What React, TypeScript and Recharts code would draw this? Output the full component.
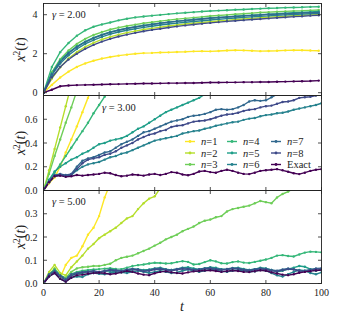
import React from 'react';
import { LineChart, Line, XAxis, YAxis } from 'recharts';

const SERIF = "'Liberation Serif', 'DejaVu Serif', serif";
const INK = '#222222';
const PLOT_L = 43.5;
const PLOT_R = 321.5;

// time grids
const t1 = [0, 3, 6, 9, 12, 15, 18, 21, 24, 27, 30, 33, 36, 39, 42, 45, 48, 51, 54, 57, 60, 63, 66, 69, 72, 75, 78, 81, 84, 87, 90, 93, 96, 99];
const t2 = [0, 2, 4, 6, 8, 10, 12, 14, 16, 18, 20, 22, 24, 26, 28, 30, 32, 34, 36, 38, 40, 42, 44, 46, 48, 50, 52, 54, 56, 58, 60, 62, 64, 66, 68, 70, 72, 74, 76, 78, 80, 82, 84, 86, 88, 90, 92, 94, 96, 98, 100];

const xTicks = [0, 20, 40, 60, 80, 100];
const yTicks1 = [0, 2, 4];
const yLabels1 = ['0', '2', '4'];
const yTicks2 = [0, 0.2, 0.4, 0.6];
const yLabels2 = ['0.0', '0.2', '0.4', '0.6'];
const yTicks3 = [0, 0.1, 0.2, 0.3];
const yLabels3 = ['0.0', '0.1', '0.2', '0.3'];

const seriesKeys = ['n1', 'n2', 'n3', 'n4', 'n5', 'n6', 'n7', 'n8', 'exact'];
const seriesNames = ['1', '2', '3', '4', '5', '6', '7', '8', 'Exact'];
const seriesColors = ['#fde725', '#b5de2b', '#6ece58', '#35b779', '#1f9e89', '#26828e', '#31688e', '#3e4989', '#440154'];

// gamma = 2.00
const g2n1 = [0, 0.4, 0.78, 1.08, 1.32, 1.5, 1.64, 1.75, 1.83, 1.9, 1.95, 2.0, 2.03, 2.04, 2.06, 2.07, 2.09, 2.1, 2.12, 2.13, 2.12, 2.14, 2.16, 2.18, 2.17, 2.15, 2.13, 2.14, 2.15, 2.17, 2.18, 2.18, 2.16, 2.15];
const g2n2 = [0, 0.72, 1.3, 1.75, 2.08, 2.35, 2.56, 2.73, 2.86, 2.98, 3.08, 3.16, 3.24, 3.3, 3.36, 3.42, 3.47, 3.52, 3.56, 3.6, 3.64, 3.68, 3.71, 3.75, 3.78, 3.81, 3.84, 3.87, 3.9, 3.92, 3.95, 3.97, 3.99, 4.0];
const g2n3 = [0, 1.05, 1.72, 2.16, 2.5, 2.76, 2.96, 3.11, 3.24, 3.34, 3.42, 3.49, 3.56, 3.61, 3.67, 3.72, 3.77, 3.81, 3.85, 3.89, 3.93, 3.96, 3.99, 4.02, 4.05, 4.08, 4.11, 4.13, 4.15, 4.17, 4.19, 4.2, 4.22, 4.24];
const g2n4 = [0, 1.32, 2.08, 2.55, 2.92, 3.2, 3.38, 3.5, 3.6, 3.71, 3.79, 3.86, 3.91, 3.95, 3.99, 4.03, 4.07, 4.1, 4.13, 4.16, 4.19, 4.21, 4.23, 4.25, 4.27, 4.29, 4.31, 4.33, 4.34, 4.36, 4.37, 4.38, 4.4, 4.41];
const g2n5 = [0, 1.0, 1.65, 2.06, 2.38, 2.62, 2.82, 2.98, 3.11, 3.22, 3.31, 3.38, 3.45, 3.51, 3.57, 3.62, 3.67, 3.71, 3.75, 3.79, 3.83, 3.86, 3.89, 3.92, 3.95, 3.98, 4.0, 4.03, 4.05, 4.08, 4.1, 4.12, 4.14, 4.16];
const g2n6 = [0, 0.9, 1.5, 1.92, 2.24, 2.5, 2.7, 2.86, 3.0, 3.11, 3.2, 3.28, 3.35, 3.41, 3.47, 3.52, 3.57, 3.61, 3.65, 3.69, 3.73, 3.77, 3.8, 3.83, 3.86, 3.89, 3.92, 3.94, 3.97, 3.99, 4.01, 4.03, 4.05, 4.07];
const g2n7 = [0, 0.95, 1.58, 2.02, 2.34, 2.6, 2.8, 2.96, 3.09, 3.2, 3.29, 3.37, 3.44, 3.5, 3.56, 3.61, 3.66, 3.7, 3.74, 3.78, 3.82, 3.85, 3.88, 3.91, 3.94, 3.96, 3.99, 4.01, 4.03, 4.05, 4.07, 4.09, 4.1, 4.11];
const g2n8 = [0, 0.78, 1.32, 1.7, 2.0, 2.25, 2.45, 2.62, 2.76, 2.88, 2.98, 3.07, 3.15, 3.22, 3.28, 3.34, 3.4, 3.45, 3.5, 3.54, 3.58, 3.62, 3.66, 3.69, 3.72, 3.75, 3.78, 3.81, 3.84, 3.87, 3.9, 3.92, 3.95, 3.97];
const g2exact = [0, 0.15, 0.33, 0.37, 0.39, 0.4, 0.41, 0.42, 0.43, 0.44, 0.45, 0.46, 0.47, 0.47, 0.48, 0.49, 0.49, 0.5, 0.5, 0.51, 0.52, 0.52, 0.53, 0.53, 0.54, 0.54, 0.55, 0.55, 0.56, 0.57, 0.58, 0.59, 0.6, 0.62];

// gamma = 3.00 (series stop once they leave the panel)
const g3n1 = [0, 0.06, 0.11, 0.2, 0.32, 0.43, 0.54, 0.66, 0.78, 0.9];
const g3n2 = [0, 0.17, 0.35, 0.53, 0.71, 0.89];
const g3n3 = [0, 0.14, 0.29, 0.43, 0.57, 0.7, 0.84];
const g3n4 = [0, 0.08, 0.15, 0.22, 0.29, 0.36, 0.43, 0.5, 0.57, 0.65, 0.72, 0.79, 0.86];
const g3n5 = [0, 0.09, 0.16, 0.2, 0.23, 0.26, 0.28, 0.31, 0.33, 0.36, 0.39, 0.4, 0.42, 0.43, 0.44, 0.46, 0.49, 0.52, 0.54, 0.57, 0.6, 0.63, 0.66, 0.68, 0.7, 0.72, 0.74, 0.76, 0.78, 0.81, 0.83];
const g3n6 = [0, 0.07, 0.12, 0.13, 0.12, 0.13, 0.17, 0.2, 0.22, 0.23, 0.24, 0.26, 0.28, 0.29, 0.31, 0.32, 0.34, 0.36, 0.38, 0.4, 0.42, 0.43, 0.44, 0.45, 0.46, 0.48, 0.49, 0.5, 0.505, 0.52, 0.53, 0.545, 0.555, 0.565, 0.575, 0.58, 0.595, 0.605, 0.61, 0.625, 0.635, 0.64, 0.65, 0.655, 0.665, 0.68, 0.69, 0.7, 0.71, 0.72, 0.735];
const g3n7 = [0, 0.08, 0.13, 0.14, 0.13, 0.14, 0.2, 0.25, 0.27, 0.28, 0.3, 0.32, 0.33, 0.36, 0.39, 0.41, 0.43, 0.46, 0.49, 0.5, 0.52, 0.54, 0.56, 0.58, 0.59, 0.6, 0.62, 0.63, 0.635, 0.645, 0.66, 0.68, 0.685, 0.68, 0.685, 0.7, 0.72, 0.75, 0.76, 0.755, 0.76, 0.785, 0.81, 0.83];
const g3n8 = [0, 0.075, 0.125, 0.135, 0.125, 0.135, 0.18, 0.23, 0.26, 0.27, 0.28, 0.3, 0.31, 0.33, 0.36, 0.38, 0.4, 0.43, 0.45, 0.47, 0.48, 0.5, 0.51, 0.535, 0.545, 0.55, 0.565, 0.58, 0.585, 0.59, 0.6, 0.615, 0.63, 0.64, 0.645, 0.655, 0.67, 0.68, 0.685, 0.7, 0.71, 0.715, 0.73, 0.745, 0.75, 0.76, 0.78, 0.785, 0.79, 0.8, 0.81];
const g3exact = [0, 0.07, 0.12, 0.125, 0.115, 0.12, 0.13, 0.125, 0.13, 0.135, 0.14, 0.15, 0.145, 0.13, 0.12, 0.125, 0.135, 0.13, 0.125, 0.135, 0.14, 0.13, 0.14, 0.155, 0.15, 0.135, 0.128, 0.14, 0.16, 0.165, 0.155, 0.15, 0.165, 0.175, 0.165, 0.15, 0.14, 0.138, 0.15, 0.165, 0.17, 0.175, 0.18, 0.17, 0.158, 0.145, 0.138, 0.15, 0.165, 0.175, 0.18];

// gamma = 5.00
const g5n1 = [0, 0.04, 0.065, 0.025, 0.08, 0.11, 0.12, 0.16, 0.21, 0.24, 0.29, 0.37, 0.43];
const g5n2 = [0, 0.05, 0.08, 0.045, 0.035, 0.07, 0.095, 0.12, 0.15, 0.17, 0.195, 0.21, 0.225, 0.24, 0.26, 0.28, 0.29, 0.32, 0.345, 0.365, 0.375, 0.41];
const g5n3 = [0, 0.035, 0.065, 0.035, 0.025, 0.05, 0.065, 0.07, 0.072, 0.075, 0.075, 0.08, 0.085, 0.1, 0.11, 0.115, 0.12, 0.13, 0.14, 0.15, 0.163, 0.175, 0.19, 0.2, 0.21, 0.225, 0.235, 0.245, 0.26, 0.27, 0.275, 0.285, 0.29, 0.31, 0.32, 0.325, 0.33, 0.335, 0.345, 0.355, 0.35, 0.345, 0.37, 0.385, 0.395, 0.41];
const g5n4 = [0, 0.04, 0.06, 0.035, 0.02, 0.04, 0.05, 0.055, 0.058, 0.06, 0.062, 0.064, 0.066, 0.063, 0.062, 0.068, 0.075, 0.079, 0.082, 0.086, 0.089, 0.088, 0.086, 0.087, 0.092, 0.096, 0.093, 0.082, 0.084, 0.092, 0.1, 0.095, 0.087, 0.086, 0.092, 0.095, 0.09, 0.088, 0.093, 0.098, 0.103, 0.11, 0.12, 0.122, 0.118, 0.116, 0.125, 0.133, 0.137, 0.136, 0.134];
const g5n5 = [0, 0.035, 0.05, 0.03, 0.015, 0.035, 0.04, 0.045, 0.05, 0.05, 0.048, 0.052, 0.055, 0.05, 0.048, 0.055, 0.06, 0.062, 0.058, 0.06, 0.065, 0.068, 0.062, 0.058, 0.062, 0.068, 0.07, 0.065, 0.06, 0.065, 0.07, 0.068, 0.062, 0.06, 0.065, 0.068, 0.063, 0.058, 0.062, 0.068, 0.065, 0.058, 0.05, 0.055, 0.062, 0.068, 0.075, 0.072, 0.062, 0.055, 0.06];
const g5n6 = [0, 0.03, 0.045, 0.02, 0.008, 0.025, 0.03, 0.028, 0.04, 0.045, 0.042, 0.04, 0.045, 0.05, 0.048, 0.045, 0.05, 0.055, 0.05, 0.045, 0.05, 0.055, 0.05, 0.045, 0.048, 0.055, 0.06, 0.055, 0.05, 0.055, 0.06, 0.058, 0.052, 0.05, 0.055, 0.058, 0.055, 0.05, 0.052, 0.058, 0.055, 0.045, 0.035, 0.03, 0.04, 0.05, 0.058, 0.055, 0.045, 0.04, 0.048];
const g5n7 = [0, 0.04, 0.055, 0.035, 0.02, 0.04, 0.045, 0.05, 0.052, 0.055, 0.05, 0.055, 0.06, 0.058, 0.055, 0.06, 0.064, 0.06, 0.055, 0.058, 0.064, 0.066, 0.06, 0.058, 0.063, 0.067, 0.065, 0.06, 0.062, 0.066, 0.068, 0.064, 0.06, 0.063, 0.067, 0.066, 0.06, 0.058, 0.062, 0.066, 0.064, 0.058, 0.055, 0.06, 0.065, 0.062, 0.056, 0.055, 0.06, 0.065, 0.066];
const g5n8 = [0, 0.035, 0.05, 0.03, 0.015, 0.035, 0.042, 0.048, 0.05, 0.052, 0.05, 0.053, 0.057, 0.055, 0.052, 0.057, 0.06, 0.058, 0.053, 0.055, 0.06, 0.062, 0.058, 0.055, 0.059, 0.063, 0.062, 0.058, 0.059, 0.063, 0.065, 0.061, 0.058, 0.06, 0.064, 0.063, 0.058, 0.055, 0.059, 0.063, 0.06, 0.055, 0.052, 0.057, 0.062, 0.06, 0.054, 0.052, 0.057, 0.062, 0.063];
const g5exact = [0, 0.03, 0.045, 0.02, 0.008, 0.025, 0.035, 0.038, 0.042, 0.045, 0.046, 0.044, 0.04, 0.043, 0.048, 0.054, 0.05, 0.043, 0.038, 0.036, 0.044, 0.05, 0.052, 0.048, 0.045, 0.043, 0.048, 0.052, 0.054, 0.056, 0.057, 0.054, 0.05, 0.053, 0.056, 0.054, 0.05, 0.049, 0.053, 0.057, 0.055, 0.048, 0.043, 0.038, 0.036, 0.04, 0.046, 0.05, 0.053, 0.056, 0.058];

const buildRows = (t: number[], cols: number[][]) =>
  t.map((tv, i) => {
    const row: Record<string, number | null> = { t: tv };
    seriesKeys.forEach((k, j) => {
      row[k] = i < cols[j].length ? cols[j][i] : null;
    });
    return row;
  });

const panels = [
  {
    gamma: '2.00', gx: 52, gy: 17.5, top: 3.5, bottom: 95.5, domain: [-0.144, 4.574],
    yTicks: yTicks1, yLabels: yLabels1, showX: false,
    rows: buildRows(t1, [g2n1, g2n2, g2n3, g2n4, g2n5, g2n6, g2n7, g2n8, g2exact]),
  },
  {
    gamma: '3.00', gx: 102, gy: 111, top: 95.5, bottom: 190.5, domain: [0, 0.8],
    yTicks: yTicks2, yLabels: yLabels2, showX: false,
    rows: buildRows(t2, [g3n1, g3n2, g3n3, g3n4, g3n5, g3n6, g3n7, g3n8, g3exact]),
  },
  {
    gamma: '5.00', gx: 52, gy: 205, top: 190.5, bottom: 283.5, domain: [0, 0.4],
    yTicks: yTicks3, yLabels: yLabels3, showX: true,
    rows: buildRows(t2, [g5n1, g5n2, g5n3, g5n4, g5n5, g5n6, g5n7, g5n8, g5exact]),
  },
];

const txt = { fontFamily: SERIF, fill: INK };

// inward ticks on bottom + top, labels only on the last panel
const XTick = (props: any) => {
  const { x, y, payload, plotTop, showLabel } = props;
  return (
    <g>
      <line x1={x} x2={x} y1={y} y2={y - 3.5} stroke={INK} strokeWidth={0.8} />
      <line x1={x} x2={x} y1={plotTop} y2={plotTop + 3.5} stroke={INK} strokeWidth={0.8} />
      {showLabel && (
        <text x={x} y={y + 12.5} textAnchor="middle" fontSize={10} style={txt}>
          {payload.value}
        </text>
      )}
    </g>
  );
};

// inward ticks on left + right
const YTick = (props: any) => {
  const { x, y, payload, tickVals, tickLabels } = props;
  const label = tickLabels[tickVals.indexOf(payload.value)];
  return (
    <g>
      <line x1={x} x2={x + 3.5} y1={y} y2={y} stroke={INK} strokeWidth={0.8} />
      <line x1={PLOT_R - 3.5} x2={PLOT_R} y1={y} y2={y} stroke={INK} strokeWidth={0.8} />
      <text x={x - 6} y={y + 3.5} textAnchor="end" fontSize={10} style={txt}>
        {label}
      </text>
    </g>
  );
};

const legendCols = [185, 227, 271];
const legendRows = [141.5, 153, 164.5];

export default function App() {
  return (
    <div style={{ position: 'absolute', left: 0, top: 0, width: 338, height: 315, background: '#fff' }}>
      {panels.map((p, pi) => (
        <div key={pi} style={{ position: 'absolute', left: 0, top: 0 }}>
          <LineChart
            width={338}
            height={315}
            data={p.rows}
            margin={{ top: p.top, right: 338 - PLOT_R, bottom: 315 - p.bottom - 1, left: 0 }}
          >
            <XAxis
              dataKey="t"
              type="number"
              domain={[0, 100]}
              ticks={xTicks}
              interval={0}
              allowDataOverflow
              height={1}
              tickSize={0}
              tickMargin={0}
              tickLine={false}
              axisLine={false}
              tick={<XTick plotTop={p.top} showLabel={p.showX} />}
            />
            <YAxis
              type="number"
              domain={p.domain}
              ticks={p.yTicks}
              interval={0}
              allowDataOverflow
              width={PLOT_L}
              tickSize={0}
              tickMargin={0}
              tickLine={false}
              axisLine={false}
              tick={<YTick tickVals={p.yTicks} tickLabels={p.yLabels} />}
            />
            {seriesKeys.map((k, i) => (
              <Line
                key={k}
                dataKey={k}
                stroke={seriesColors[i]}
                strokeWidth={1.4}
                dot={{ r: 1.2, fill: seriesColors[i], stroke: 'none' }}
                activeDot={false}
                connectNulls={false}
                isAnimationActive={false}
              />
            ))}
          </LineChart>
        </div>
      ))}
      <svg width={338} height={315} style={{ position: 'absolute', left: 0, top: 0, pointerEvents: 'none' }}>
        {panels.map((p, pi) => (
          <g key={pi}>
            <rect x={PLOT_L} y={p.top} width={PLOT_R - PLOT_L} height={p.bottom - p.top} fill="none" stroke={INK} strokeWidth={0.9} />
            <text x={p.gx} y={p.gy} fontSize={10.5} style={txt}>
              <tspan fontStyle="italic">γ</tspan>
              <tspan>{' = ' + p.gamma}</tspan>
            </text>
            <text
              transform={`translate(${25}, ${(p.top + p.bottom) / 2}) rotate(-90)`}
              textAnchor="middle"
              fontSize={14}
              style={txt}
            >
              <tspan fontStyle="italic">x</tspan>
              <tspan fontSize={9.5} dy={-5.5}>2</tspan>
              <tspan dy={5.5}>(</tspan>
              <tspan fontStyle="italic">t</tspan>
              <tspan>)</tspan>
            </text>
          </g>
        ))}
        <text x={182} y={311} textAnchor="middle" fontSize={14} fontStyle="italic" style={txt}>
          t
        </text>
        {seriesKeys.map((k, i) => {
          const lx = legendCols[Math.floor(i / 3)];
          const ly = legendRows[i % 3];
          const isExact = k === 'exact';
          return (
            <g key={k}>
              <line x1={lx} x2={lx + 10} y1={ly} y2={ly} stroke={seriesColors[i]} strokeWidth={1.4} />
              <circle cx={lx + 5} cy={ly} r={1.4} fill={seriesColors[i]} />
              <text x={lx + 16} y={ly + 3.5} fontSize={10.5} style={txt}>
                {isExact ? (
                  seriesNames[i]
                ) : (
                  <>
                    <tspan fontStyle="italic">n</tspan>
                    <tspan>{'=' + seriesNames[i]}</tspan>
                  </>
                )}
              </text>
            </g>
          );
        })}
      </svg>
    </div>
  );
}
